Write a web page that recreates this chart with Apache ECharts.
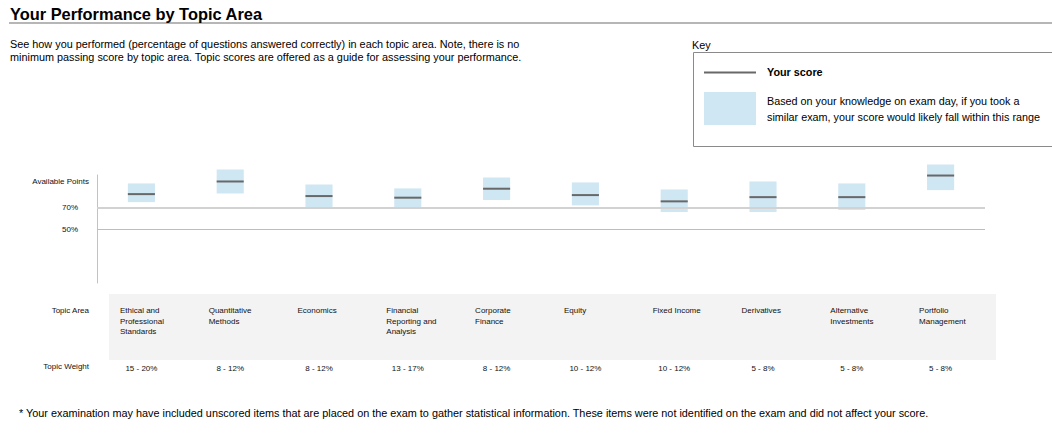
<!DOCTYPE html>
<html>
<head>
<meta charset="utf-8">
<script src="https://cdn.jsdelivr.net/npm/echarts@6/dist/echarts.min.js"></script>
<style>
html,body{margin:0;padding:0;background:#fff;}
#chart{width:1052px;height:438px;}
</style>
</head>
<body>
<div id="chart"></div>
<script>
// ---- data ----
const categories = ['Ethical and\nProfessional\nStandards', 'Quantitative\nMethods', 'Economics', 'Financial\nReporting and\nAnalysis', 'Corporate\nFinance', 'Equity', 'Fixed Income', 'Derivatives', 'Alternative\nInvestments', 'Portfolio\nManagement'];
const topicWeights = ['15 - 20%', '8 - 12%', '8 - 12%', '13 - 17%', '8 - 12%', '10 - 12%', '10 - 12%', '5 - 8%', '5 - 8%', '5 - 8%'];
const scores = [82.3, 94.0, 80.5, 79.0, 87.3, 81.4, 75.6, 79.5, 79.5, 99.5];
const rangeLow = [74.9, 82.9, 69.4, 69.4, 76.8, 71.9, 65.7, 65.7, 67.6, 86.0];
const rangeHigh = [92.2, 105.1, 91.2, 87.6, 97.7, 93.1, 86.6, 94.0, 92.2, 109.7];
const yTickValues = [94, 70, 50];
const yTickLabels = ['Available Points', '70%', '50%'];
const refLines = [70, 50];

const titleText = 'Your Performance by Topic Area';
const introText = 'See how you performed (percentage of questions answered correctly) in each topic area. Note, there is no\nminimum passing score by topic area. Topic scores are offered as a guide for assessing your performance.';
const keyTitle = 'Key';
const keyScore = 'Your score';
const keyRange = 'Based on your knowledge on exam day, if you took a\nsimilar exam, your score would likely fall within this range';
const footnote = '* Your examination may have included unscored items that are placed on the exam to gather statistical information. These items were not identified on the exam and did not affect your score.';
const rowNames = ['Topic Area', 'Topic Weight'];

const FONT = '"Liberation Sans", Arial, sans-serif';
const BLUE = '#cfe6f3';
const SCORE = '#686868';

const chart = echarts.init(document.getElementById('chart'), null, {renderer: 'svg'});

const boxData = categories.map((c, i) => [i, rangeLow[i], rangeHigh[i], scores[i]]);

const option = {
  backgroundColor: '#fff',
  animation: false,
  textStyle: {fontFamily: FONT},
  title: [
    {text: titleText, left: 10, top: 6, padding: 0, textStyle: {fontFamily: FONT, fontSize: 16.4, fontWeight: 'bold', color: '#000'}},
    {text: introText, left: 10, top: 38, padding: 0, textStyle: {fontFamily: FONT, fontSize: 10.85, fontWeight: 'normal', color: '#000', lineHeight: 12.7}},
    {text: footnote, left: 19, top: 407, padding: 0, textStyle: {fontFamily: FONT, fontSize: 10.85, fontWeight: 'normal', color: '#000'}}
  ],
  graphic: [
    {type: 'line', shape: {x1: 9, y1: 23, x2: 1052, y2: 23}, style: {stroke: '#6e6e6e', lineWidth: 1.2}, silent: true},
    {type: 'rect', shape: {x: 109, y: 294, width: 887, height: 66}, style: {fill: '#f3f3f3'}, z: -10, silent: true},
    {type: 'text', left: 692, top: 39, style: {text: keyTitle, font: '10.8px ' + FONT, fill: '#000'}},
    {type: 'rect', shape: {x: 693.5, y: 52.5, width: 400, height: 94}, style: {fill: 'none', stroke: '#8a8a8a', lineWidth: 1}},
    {type: 'line', shape: {x1: 704, y1: 72.5, x2: 756, y2: 72.5}, style: {stroke: SCORE, lineWidth: 2}},
    {type: 'text', left: 767, top: 66, style: {text: keyScore, font: 'bold 10.8px ' + FONT, fill: '#000'}},
    {type: 'rect', shape: {x: 704, y: 92, width: 52, height: 33}, style: {fill: BLUE}},
    {type: 'text', left: 767, top: 93, style: {text: keyRange, font: '10.8px ' + FONT, fill: '#000', lineHeight: 16}}
  ],
  grid: {left: 97, right: 67, top: 175, bottom: 155, containLabel: false},
  xAxis: [
    {type: 'category', data: categories, position: 'bottom', axisLine: {show: false}, axisTick: {show: false}, axisLabel: {show: false}, splitLine: {show: false}},
    {type: 'category', data: categories, position: 'bottom', offset: 22, gridIndex: 0,
      axisLine: {show: false}, axisTick: {show: false},
      name: rowNames[0], nameLocation: 'start', nameGap: 8,
      nameTextStyle: {fontFamily: FONT, fontSize: 8, color: '#111', align: 'right', verticalAlign: 'top', lineHeight: 11},
      axisLabel: {interval: 0, margin: 0, verticalAlign: 'top', align: 'center',
        formatter: v => v.split('\n').map(l => '{a|' + l + '}').join('\n'),
        rich: {a: {width: 43, align: 'left', fontFamily: FONT, fontSize: 8, lineHeight: 10.7, color: '#111'}}}},
    {type: 'category', data: topicWeights, position: 'bottom', offset: 81, gridIndex: 0,
      axisLine: {show: false}, axisTick: {show: false},
      name: rowNames[1], nameLocation: 'start', nameGap: 8,
      nameTextStyle: {fontFamily: FONT, fontSize: 8, color: '#111', align: 'right', verticalAlign: 'top', lineHeight: 9, padding: [-2, 0, 0, 0]},
      axisLabel: {interval: 0, margin: 0, verticalAlign: 'top', align: 'center', fontFamily: FONT, fontSize: 8, lineHeight: 9, color: '#111'}}
  ],
  yAxis: {
    type: 'value', min: 0, max: 100, interval: 1,
    axisLine: {show: true, lineStyle: {color: '#c2c2c2', width: 1}},
    axisTick: {show: false}, splitLine: {show: false},
    axisLabel: {
      margin: 8, color: '#111', fontFamily: FONT, fontSize: 8,
      formatter: v => {
        const i = yTickValues.indexOf(v);
        if (i < 0) return '';
        return i === 0 ? '{ap|' + yTickLabels[i] + '}' : '{p|' + yTickLabels[i] + '}';
      },
      rich: {
        ap: {fontFamily: FONT, fontSize: 8, color: '#111'},
        p: {fontFamily: FONT, fontSize: 8, color: '#111', padding: [0, 11, 0, 0]}
      }
    }
  },
  series: [
    {type: 'line', data: [], z: 1, silent: true,
      markLine: {symbol: 'none', silent: true, label: {show: false},
        data: [
          {yAxis: refLines[0], lineStyle: {color: '#d2d2d2', width: 2, type: 'solid'}},
          {yAxis: refLines[1], lineStyle: {color: '#bdbdbd', width: 1, type: 'solid'}}
        ]}},
    {type: 'custom', z: 3, data: boxData, clip: false,
      renderItem: (params, api) => {
        const x = api.value(0);
        const pLo = api.coord([x, api.value(1)]);
        const pHi = api.coord([x, api.value(2)]);
        const pSc = api.coord([x, api.value(3)]);
        const w = api.size([1, 0])[0] * 0.305;
        return {type: 'group', children: [
          {type: 'rect', shape: {x: pLo[0] - w / 2, y: pHi[1], width: w, height: pLo[1] - pHi[1]}, style: {fill: BLUE}},
          {type: 'line', shape: {x1: pSc[0] - w / 2, y1: pSc[1], x2: pSc[0] + w / 2, y2: pSc[1]}, style: {stroke: SCORE, lineWidth: 2}}
        ]};
      }}
  ]
};
chart.setOption(option);
</script>
</body>
</html>
